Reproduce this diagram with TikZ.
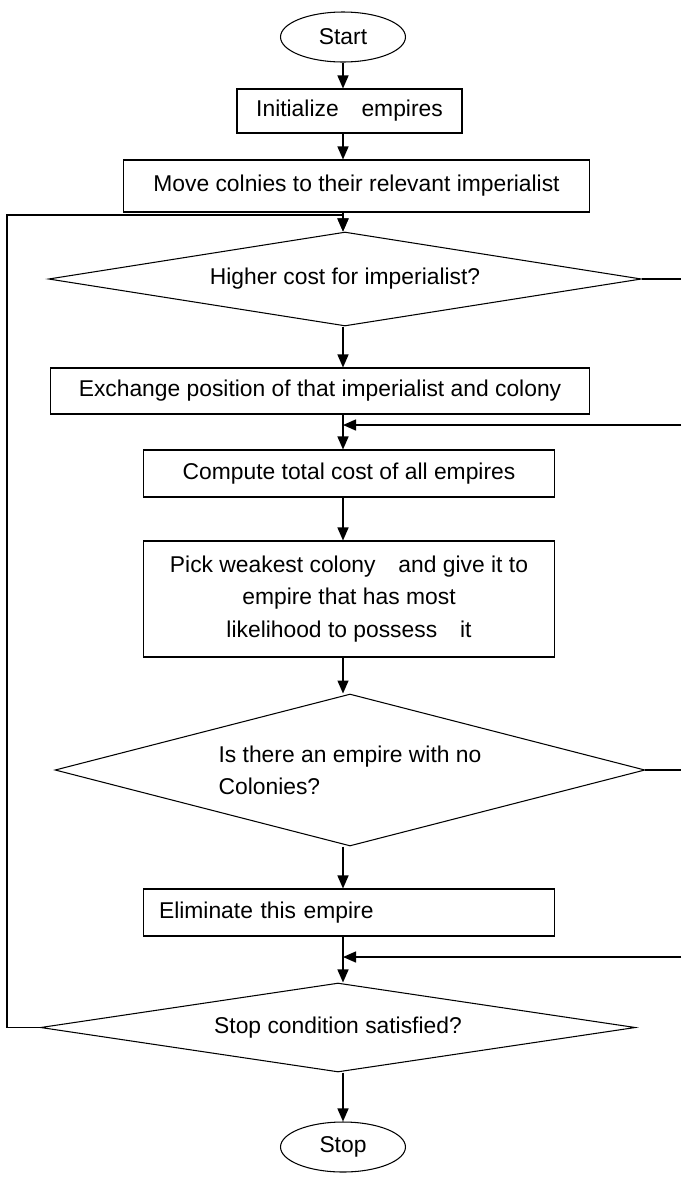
\documentclass[tikz,border=0pt]{standalone}
\usepackage{fontspec}
\setmainfont{Liberation Sans}
\usetikzlibrary{shapes.geometric,arrows.meta}

\begin{document}
\begin{tikzpicture}[x=0.02cm, y=-0.02cm, font=\fontsize{13}{18.4}\selectfont,
        >={Triangle[length=2.6mm,width=2.2mm]},
        box/.style={draw, rectangle, semithick, inner sep=0pt},
        ends/.style={draw, ellipse, semithick, minimum width=2.5cm, minimum height=1cm},
        test/.style={draw, diamond, semithick, inner sep=0pt},
        flow/.style={->, thick}]
        \useasboundingbox (0,0) rectangle (681,1177);

        % Start
        \node[ends] (start) at (343, 37) {Start};

        % Boxes
        \node[box, minimum width=4.5cm, minimum height=0.88cm] (init) at (349.5, 111) {Initialize\quad empires};
        \node[box, minimum width=9.34cm, minimum height=1.04cm] (move) at (356.5, 186) {Move colnies to their relevant imperialist};

        % Higher cost
        \node[test, aspect=6.3, minimum width=11.86cm, minimum height=1.88cm] (cost) at (345, 279) {Higher cost for imperialist?};

        \node[box, minimum width=10.8cm, minimum height=0.92cm] (exch) at (320, 391) {Exchange position of that imperialist and colony};
        \node[box, minimum width=8.24cm, minimum height=0.94cm] (total) at (349, 473.5) {Compute total cost of all empires};
        \node[box, minimum width=8.24cm, minimum height=2.32cm, align=center] (pick) at (349, 599)
            {Pick weakest colony\quad and give it to\\empire that has most\\likelihood to possess\quad it};

        % No colonies
        \node[test, aspect=3.88, minimum width=11.8cm, minimum height=3.04cm, align=left] (empty) at (350, 770) {Is there an empire with no\\Colonies?};

        \node[box, minimum width=8.24cm, minimum height=0.94cm, text width=7.6cm, align=left] (elim) at (349, 912.5) {Eliminate this empire};

        % Stop condition
        \node[test, aspect=6.7, minimum width=11.9cm, minimum height=1.78cm] (stopc) at (338, 1027.5) {Stop condition satisfied?};

        % Stop
        \node[ends] (stop) at (343, 1147) {Stop};

        % Helper points
        \coordinate (spine) at (343, 0);
        \coordinate (lft) at (7, 0);
        \coordinate (loopin) at (343, 215);
        \coordinate (r1) at (681, 279);
        \coordinate (r2) at (681, 425);
        \coordinate (r3) at (681, 770);
        \coordinate (r4) at (681, 957);

        % Connections
        \draw[flow] (start) -- (spine |- init.north);
        \draw[flow] (spine |- init.south) -- (spine |- move.north);
        \draw[flow] (spine |- move.south) -- (spine |- cost.north);
        \draw[flow] (spine |- cost.south) -- (spine |- exch.north);
        \draw[flow] (spine |- exch.south) -- (spine |- total.north);
        \draw[flow] (spine |- total.south) -- (spine |- pick.north);
        \draw[flow] (spine |- pick.south) -- (spine |- empty.north);
        \draw[flow] (spine |- empty.south) -- (spine |- elim.north);
        \draw[flow] (spine |- elim.south) -- (spine |- stopc.north);
        \draw[flow] (spine |- stopc.south) -- (stop);

        % Loop back
        \draw[flow] (stopc.west) -| (lft |- loopin) -- (loopin) -- (spine |- cost.north);

        % Right side
        \draw[thick] (cost.east) -- (r1);
        \draw[flow] (r2) -- (spine |- r2);
        \draw[thick] (empty.east) -- (r3);
        \draw[flow] (r4) -- (spine |- r4);
    \end{tikzpicture}
\end{document}
